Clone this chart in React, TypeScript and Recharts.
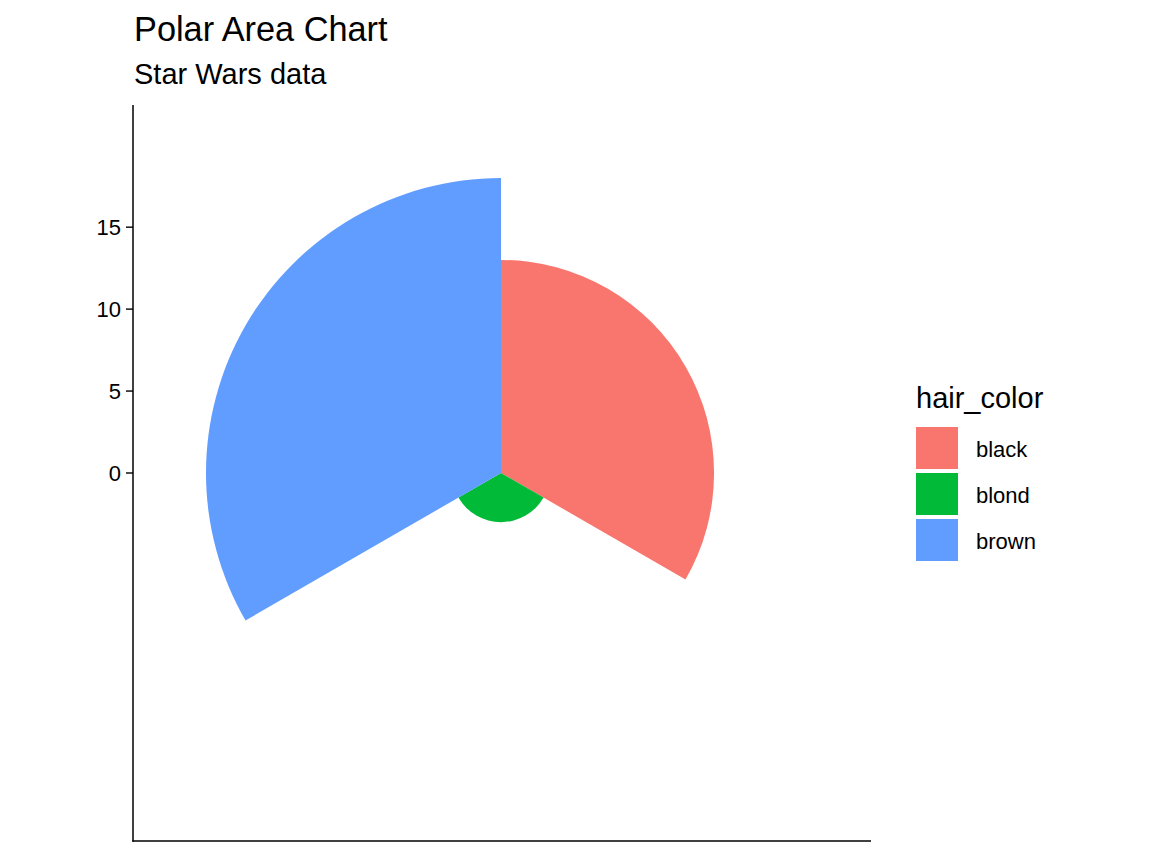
import React from 'react';
import { RadialBarChart, RadialBar, PolarAngleAxis, PolarRadiusAxis, Cell } from 'recharts';

// ---- data ----
const hairColors: string[] = ['black', 'blond', 'brown'];
const counts: number[] = [13, 3, 18];
const fills: string[] = ['#F8766D', '#00BA38', '#619CFF'];
const radiusTicks: number[] = [0, 5, 10, 15];
const radiusDomain: [number, number] = [0, 18];

const titleText = 'Polar Area Chart';
const subtitleText = 'Star Wars data';
const legendTitle = 'hair_color';

const data = hairColors.map((h, i) => ({ hair_color: h, n: counts[i] }));

const FONT = '"Liberation Sans", Arial, Helvetica, sans-serif';

// panel geometry (ggplot panel box)
const PANEL = { left: 133, top: 105, right: 871, bottom: 841 };
const CX = 501;
const CY = 473;
const OUTER_R = 295;
// sectors go clockwise from 12 o'clock; Recharts lays each band from its start angle
// counter-clockwise by the band width, so the first band starts one band (120°) clockwise of 90°.
const START_ANGLE = -30;
const END_ANGLE = -390;

const RadiusTick = (props: any) => {
  const { y, payload } = props;
  return (
    <g>
      <line x1={PANEL.left - 7} x2={PANEL.left} y1={y} y2={y} stroke="#000" strokeWidth={1.4} />
      <text
        x={PANEL.left - 12}
        y={y}
        dy="0.36em"
        textAnchor="end"
        fontSize={22}
        fill="#000"
        fontFamily={FONT}
      >
        {payload.value}
      </text>
    </g>
  );
};

export default function App() {
  return (
    <div style={{ position: 'absolute', left: 0, top: 0, width: 1152, height: 864, background: '#fff' }}>
      <svg
        width={1152}
        height={864}
        style={{ position: 'absolute', left: 0, top: 0 }}
        fontFamily={FONT}
      >
        <text x={134} y={41} fontSize={34.3} fill="#000">{titleText}</text>
        <text x={134} y={84} fontSize={29} fill="#000">{subtitleText}</text>
        {/* axis lines (theme_classic) */}
        <line x1={PANEL.left} x2={PANEL.left} y1={PANEL.top} y2={PANEL.bottom + 0.7} stroke="#000" strokeWidth={1.5} />
        <line x1={PANEL.left - 0.7} x2={PANEL.right} y1={PANEL.bottom} y2={PANEL.bottom} stroke="#000" strokeWidth={1.5} />
        {/* legend */}
        <text x={916} y={408} fontSize={29} fill="#000">{legendTitle}</text>
        {hairColors.map((h, i) => (
          <g key={h}>
            <rect x={916} y={427 + i * 46} width={42} height={42} fill={fills[i]} />
            <text x={976} y={427 + i * 46 + 30} fontSize={22} fill="#000">{h}</text>
          </g>
        ))}
      </svg>
      <div style={{ position: 'absolute', left: 0, top: 0 }}>
        <RadialBarChart
          width={1152}
          height={864}
          data={data}
          layout="centric"
          cx={CX}
          cy={CY}
          innerRadius={0}
          outerRadius={OUTER_R}
          startAngle={START_ANGLE}
          endAngle={END_ANGLE}
          barCategoryGap="0%"
          barGap={0}
          margin={{ top: 0, right: 0, bottom: 0, left: 0 }}
        >
          <PolarAngleAxis type="category" dataKey="hair_color" tick={false} axisLine={false} />
          <PolarRadiusAxis
            type="number"
            domain={radiusDomain}
            ticks={radiusTicks}
            allowDataOverflow
            angle={90}
            axisLine={false}
            tick={(p: any) => <RadiusTick {...p} />}
          />
          <RadialBar dataKey="n" isAnimationActive={false}>
            {data.map((d, i) => (
              <Cell key={d.hair_color} fill={fills[i]} />
            ))}
          </RadialBar>
        </RadialBarChart>
      </div>
    </div>
  );
}
